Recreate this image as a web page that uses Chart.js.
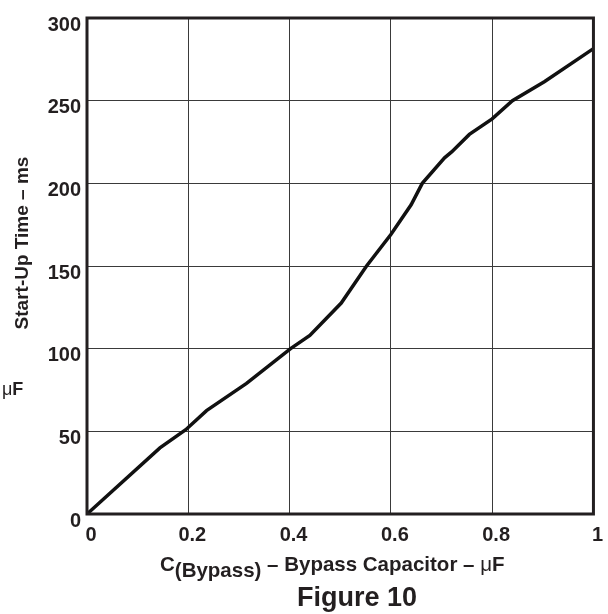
<!DOCTYPE html>
<html>
<head>
<meta charset="utf-8">
<script src="https://cdn.jsdelivr.net/npm/chart.js@4/dist/chart.umd.min.js"></script>
<style>
  html, body { margin: 0; padding: 0; background: #ffffff; }
  canvas { display: block; }
</style>
</head>
<body>
<canvas id="startup" width="608" height="614"></canvas>
<script>
  // Start-up time vs bypass capacitor (Figure 10)
  var capUF     = [0, 0.144, 0.195, 0.236, 0.315, 0.402, 0.44, 0.502, 0.552, 0.6, 0.64, 0.662, 0.706, 0.72, 0.755, 0.8, 0.84, 0.903, 1.0];
  var startUpMs = [0, 40, 51, 62.5, 79, 100, 108, 127.6, 150, 169, 187, 200, 215.4, 219, 229.6, 239, 250, 261.5, 281.5];

  var xTicks = [0, 0.2, 0.4, 0.6, 0.8, 1];
  var yTicks = [0, 50, 100, 150, 200, 250, 300];

  var INK  = '#231f20';
  var FONT = "'Liberation Sans', Arial, sans-serif";

  /* ── Frame + axis titles ── */
  var decor = {
    id: 'decor',
    afterDatasetsDraw: function (chart) {
      var ctx = chart.ctx, a = chart.chartArea;
      ctx.save();

      // thick outer frame
      ctx.strokeStyle = INK;
      ctx.lineWidth = 3;
      ctx.strokeRect(a.left, a.top, a.right - a.left, a.bottom - a.top);

      ctx.fillStyle = INK;
      ctx.textBaseline = 'alphabetic';

      // y title
      ctx.save();
      ctx.translate(28, 243);
      ctx.rotate(-Math.PI / 2);
      ctx.textAlign = 'center';
      ctx.font = 'bold 19px ' + FONT;
      ctx.fillText('Start-Up Time \u2013 ms', 0, 0);
      ctx.restore();

      // x title, with subscript
      ctx.textAlign = 'left';
      var runs = [
        { t: 'C',         f: 'bold 20.5px ' + FONT, dy: 0 },
        { t: '(Bypass)',  f: 'bold 20.5px ' + FONT, dy: 6 },
        { t: ' \u2013 Bypass Capacitor \u2013 ', f: 'bold 20.5px ' + FONT, dy: 0 },
        { t: '\u03bc',    f: '20.5px ' + FONT, dy: 0 },
        { t: 'F',         f: 'bold 20.5px ' + FONT, dy: 0 }
      ];
      var x = 160;
      runs.forEach(function (r) {
        ctx.font = r.f;
        ctx.fillText(r.t, x, 571 + r.dy);
        x += ctx.measureText(r.t).width;
      });

      // stray unit at left
      ctx.font = '18px ' + FONT;
      ctx.fillText('\u03bc', 2, 395);
      var w = ctx.measureText('\u03bc').width;
      ctx.font = 'bold 18px ' + FONT;
      ctx.fillText('F', 2 + w, 395);

      // figure caption
      ctx.textAlign = 'center';
      ctx.font = 'bold 27px ' + FONT;
      ctx.fillText('Figure 10', 357, 606);

      ctx.restore();
    }
  };

  var tickFont = { family: FONT, size: 20, weight: 'bold' };

  new Chart(document.getElementById('startup'), {
    type: 'line',
    data: {
      datasets: [{
        data: capUF.map(function (c, i) { return { x: c, y: startUpMs[i] }; }),
        borderColor: '#111111',
        borderWidth: 3.5,
        pointRadius: 0,
        tension: 0,
        fill: false
      }]
    },
    options: {
      responsive: false,
      animation: false,
      layout: { padding: { left: 0, top: 7.5, right: 14, bottom: 0 } },
      plugins: { legend: { display: false }, tooltip: { enabled: false } },
      scales: {
        x: {
          type: 'linear',
          min: 0, max: 1,
          afterFit: function (s) { s.height = 100; },
          afterBuildTicks: function (s) { s.ticks = xTicks.map(function (v) { return { value: v }; }); },
          grid: { color: '#3a3a3a', lineWidth: 1, drawTicks: false },
          border: { display: false },
          ticks: {
            color: INK, font: tickFont, padding: 9, labelOffset: 4, maxRotation: 0,
            callback: function (v) { return String(Math.round(v * 10) / 10); }
          }
        },
        y: {
          min: 0, max: 300,
          afterFit: function (s) { s.width = 87; },
          afterBuildTicks: function (s) { s.ticks = yTicks.map(function (v) { return { value: v }; }); },
          grid: { color: '#3a3a3a', lineWidth: 1, drawTicks: false },
          border: { display: false },
          ticks: { color: INK, font: tickFont, padding: 6, labelOffset: 7 }
        }
      }
    },
    plugins: [decor]
  });
</script>
</body>
</html>
